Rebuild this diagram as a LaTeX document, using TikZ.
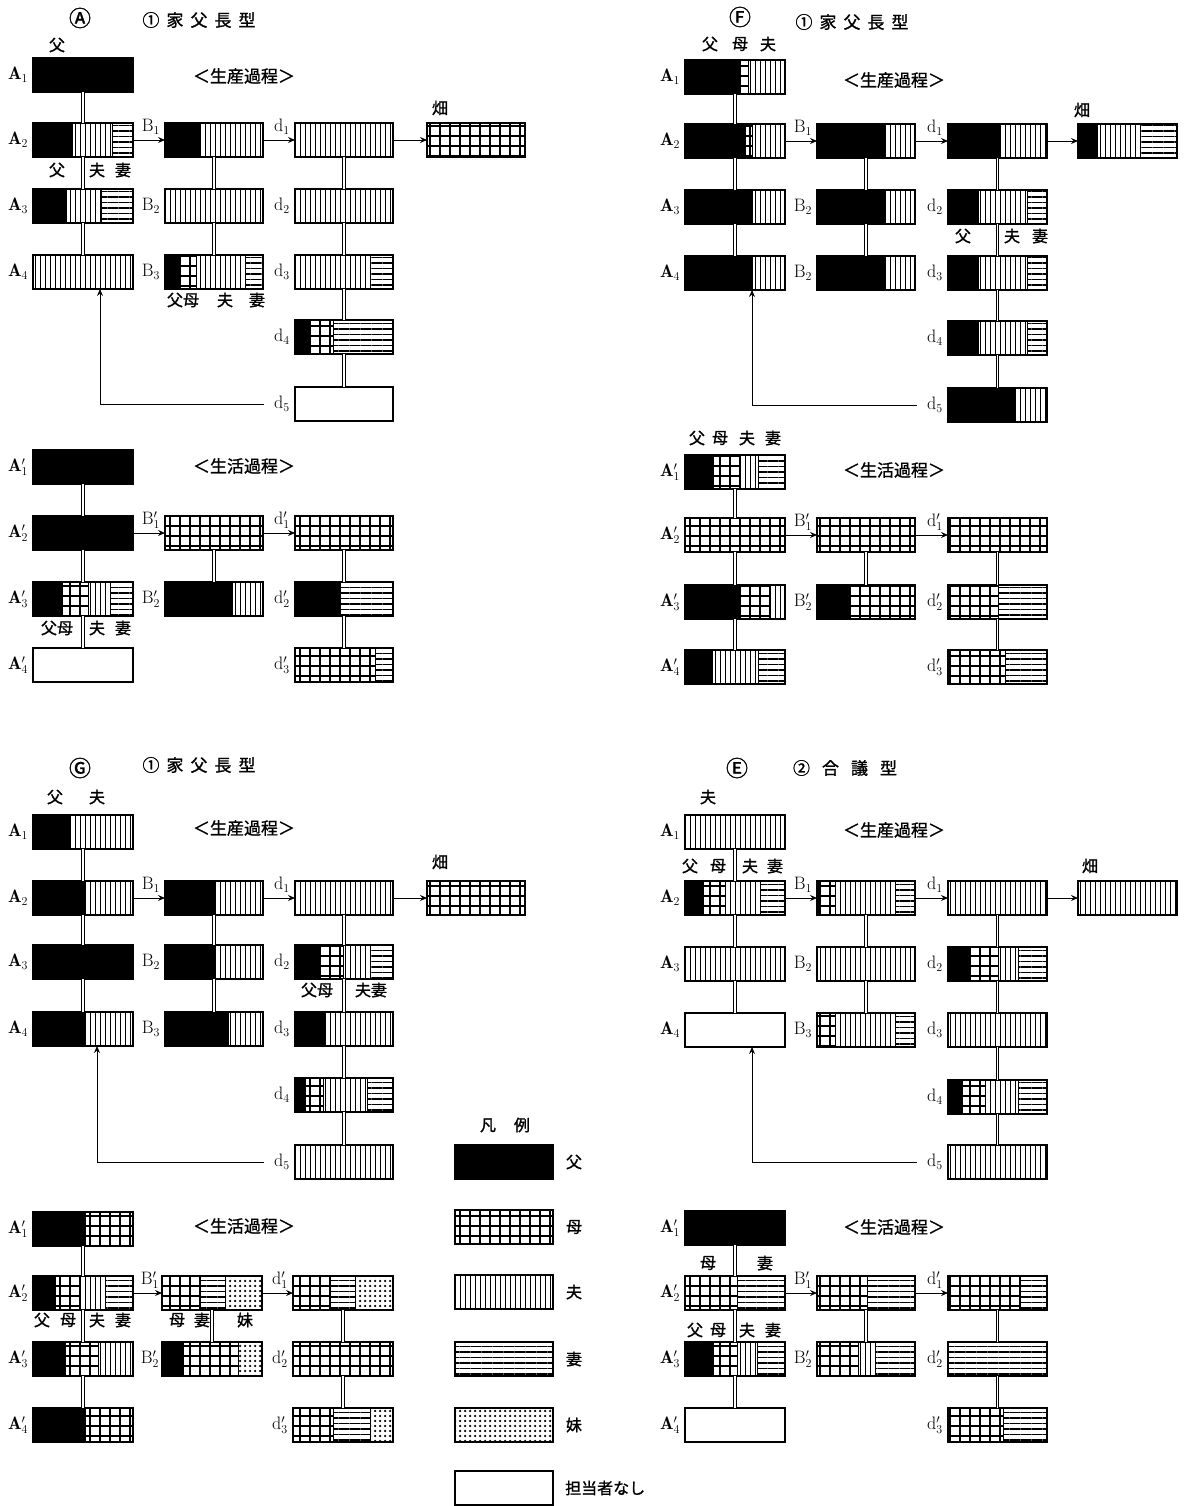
\documentclass[tikz,border=0pt]{standalone}
\usepackage{fontspec}
\newfontfamily\jp[FakeBold=1.2]{Noto Sans CJK JP}
\usetikzlibrary{patterns.meta,arrows.meta}
\tikzset{
 patF/.style={fill=black},
 patN/.style={fill=white},
 patH/.style={pattern={Lines[angle=90,distance=5pt,line width=0.9pt]}},
 patW/.style={pattern={Lines[angle=0,distance=5.5pt,line width=1.1pt]}},
 patM/.style={pattern={Hatch[angle=0,distance=10pt,line width=2.6pt]}},
 patS/.style={pattern={Dots[distance=5pt,radius=1.25pt]}},
 segb/.style={draw,line width=0.7pt},
 bxn/.style={draw,line width=1.3pt,inner sep=0pt,outer sep=0pt,rectangle},
 stem/.style={draw,line width=1pt,double=white,double distance=1.6pt},
 arr/.style={-{Stealth[length=7pt,width=6pt,inset=2.5pt]},line width=0.9pt},
 lab/.style={inner sep=0pt,font=\fontsize{18}{18}\selectfont},
 jpl/.style={inner sep=0pt,font=\jp\fontsize{16}{16}\selectfont},
 ttl/.style={inner sep=0pt,font=\jp\fontsize{17}{17}\selectfont},
 circ/.style={inner sep=0pt,font=\jp\fontsize{22}{22}\selectfont},
}
\newcommand\bx[5]{%
 \foreach \ty/\xa/\xb in {#5}{\path[segb,pat\ty] (\xa,#4) rectangle (\xb,#4+34);}%
 \pgfmathsetmacro\bxw{#3-#2}%
 \node[bxn,minimum width=\bxw pt,minimum height=34pt,anchor=north west] (#1) at (#2,#4) {};}
\newcommand\lb[4]{\node[lab] (L#1) at (#2,#3) {#4};}
\newcommand\jt[4]{\node[jpl] (#1) at (#2,#3) {#4};}
\newcommand\stm[2]{\draw[stem] (#1.south) -- (#2.north);}
\newcommand\ar[2]{\draw[arr] (#1.east) -- (#2.west);}
\newcommand\ttlA{①\hspace{7pt}家\hspace{7pt}父\hspace{7pt}長\hspace{7pt}型}
\begin{document}
\begin{tikzpicture}[x=1pt,y=-1pt]
\useasboundingbox (0,0) rectangle (1189,1506);
\fill[white] (0,0) rectangle (1189,1506);
%================ Panel A =================
\node[circ] (aT1) at (80,18) {Ⓐ};
\node[ttl] (aT2) at (199,20) {\ttlA};
\node[ttl] (aP) at (244,76) {＜生産過程＞};
\jt{aF1}{57}{45}{父}
\bx{aA1}{33}{133}{58}{F/33/133}
\bx{aA2}{33}{133}{123}{F/33/72,H/72/112,W/112/133}
\bx{aA3}{33}{133}{189}{F/33/66,H/66/101,W/101/133}
\bx{aA4}{33}{133}{255}{H/33/133}
\bx{aB1}{165}{263}{123}{F/165/200,H/200/263}
\bx{aB2}{165}{263}{189}{H/165/263}
\bx{aB3}{165}{263}{255}{F/165/180,M/180/196,H/196/245,W/245/263}
\bx{ad1}{295}{393}{123}{H/295/393}
\bx{ad2}{295}{393}{189}{H/295/393}
\bx{ad3}{295}{393}{255}{H/295/370,W/370/393}
\bx{ad4}{295}{393}{320}{F/295/310,M/310/333,W/333/393}
\bx{ad5}{295}{393}{387}{N/295/393}
\bx{aK}{427}{525}{123}{M/427/525}
\jt{aKt}{440}{108}{畑}
\jt{aU1}{57}{170}{父}\jt{aU2}{97}{170}{夫}\jt{aU3}{123}{170}{妻}
\jt{aU4}{183}{300}{父母}\jt{aU5}{225}{300}{夫}\jt{aU6}{257}{300}{妻}
\lb{aA1}{18}{75}{$\mathbf{A}_{1}$}\lb{aA2}{18}{140}{$\mathbf{A}_{2}$}
\lb{aA3}{18}{206}{$\mathbf{A}_{3}$}\lb{aA4}{18}{272}{$\mathbf{A}_{4}$}
\lb{aB1}{151}{127}{$\mathrm{B}_1$}\lb{aB2}{151}{206}{$\mathrm{B}_2$}\lb{aB3}{151}{272}{$\mathrm{B}_3$}
\lb{ad1}{282}{127}{$\mathrm{d}_1$}\lb{ad2}{282}{206}{$\mathrm{d}_2$}\lb{ad3}{282}{272}{$\mathrm{d}_3$}
\lb{ad4}{282}{337}{$\mathrm{d}_4$}\lb{ad5}{282}{404}{$\mathrm{d}_5$}
\stm{aA1}{aA2}\stm{aA2}{aA3}\stm{aA3}{aA4}
\stm{aB1}{aB2}\stm{aB2}{aB3}
\stm{ad1}{ad2}\stm{ad2}{ad3}\stm{ad3}{ad4}\stm{ad4}{ad5}
\ar{aA2}{aB1}\ar{aB1}{ad1}\ar{ad1}{aK}
\draw[arr] ([xshift=-10pt]Lad5.west) -| ([xshift=17pt]aA4.south);
% living A
\node[ttl] (aL) at (244,466) {＜生活過程＞};
\bx{aA1l}{33}{133}{450}{F/33/133}
\bx{aA2l}{33}{133}{516}{F/33/133}
\bx{aA3l}{33}{133}{582}{F/33/62,M/62/88,H/88/110,W/110/133}
\bx{aA4l}{33}{133}{648}{N/33/133}
\bx{aB1l}{165}{263}{516}{M/165/263}
\bx{aB2l}{165}{263}{582}{F/165/232,H/232/263}
\bx{ad1l}{295}{393}{516}{M/295/393}
\bx{ad2l}{295}{393}{582}{F/295/340,W/340/393}
\bx{ad3l}{295}{393}{648}{M/295/375,W/375/393}
\jt{aV1}{57}{628}{父母}\jt{aV2}{97}{628}{夫}\jt{aV3}{123}{628}{妻}
\lb{aA1l}{18}{467}{$\mathbf{A}_{1}'$}\lb{aA2l}{18}{533}{$\mathbf{A}_{2}'$}
\lb{aA3l}{18}{599}{$\mathbf{A}_{3}'$}\lb{aA4l}{18}{665}{$\mathbf{A}_{4}'$}
\lb{aB1l}{151}{520}{$\mathrm{B}_1'$}\lb{aB2l}{151}{599}{$\mathrm{B}_2'$}
\lb{ad1l}{282}{520}{$\mathrm{d}_1'$}\lb{ad2l}{282}{599}{$\mathrm{d}_2'$}\lb{ad3l}{282}{665}{$\mathrm{d}_3'$}
\stm{aA1l}{aA2l}\stm{aA2l}{aA3l}\stm{aA3l}{aA4l}
\stm{aB1l}{aB2l}\stm{ad1l}{ad2l}\stm{ad2l}{ad3l}
\ar{aA2l}{aB1l}\ar{aB1l}{ad1l}
%================ Panel F =================
\node[circ] (fT1) at (740,17) {Ⓕ};
\node[ttl] (fT2) at (852,22) {\ttlA};
\node[ttl] (fP) at (894,80) {＜生産過程＞};
\jt{fF1}{710}{44}{父}\jt{fF2}{740}{44}{母}\jt{fF3}{768}{44}{夫}
\bx{fA1}{685}{785}{60}{F/685/738,M/738/748,H/748/785}
\bx{fA2}{685}{785}{124}{F/685/745,M/745/752,H/752/785}
\bx{fA3}{685}{785}{190}{F/685/752,H/752/785}
\bx{fA4}{685}{785}{256}{F/685/752,H/752/785}
\bx{fB1}{817}{915}{124}{F/817/885,H/885/915}
\bx{fB2}{817}{915}{190}{F/817/885,H/885/915}
\bx{fB3}{817}{915}{256}{F/817/885,H/885/915}
\bx{fd1}{948}{1047}{124}{F/948/1000,H/1000/1047}
\bx{fd2}{948}{1047}{190}{F/948/978,H/978/1027,W/1027/1047}
\bx{fd3}{948}{1047}{256}{F/948/978,H/978/1027,W/1027/1047}
\bx{fd4}{948}{1047}{321}{F/948/978,H/978/1027,W/1027/1047}
\bx{fd5}{948}{1047}{388}{F/948/1015,H/1015/1047}
\bx{fK}{1078}{1177}{124}{F/1078/1097,H/1097/1140,W/1140/1177}
\jt{fKt}{1082}{110}{畑}
\jt{fU1}{963}{236}{父}\jt{fU2}{1012}{236}{夫}\jt{fU3}{1040}{236}{妻}
\lb{fA1}{670}{77}{$\mathbf{A}_{1}$}\lb{fA2}{670}{141}{$\mathbf{A}_{2}$}
\lb{fA3}{670}{207}{$\mathbf{A}_{3}$}\lb{fA4}{670}{273}{$\mathbf{A}_{4}$}
\lb{fB1}{803}{128}{$\mathrm{B}_1$}\lb{fB2}{803}{207}{$\mathrm{B}_2$}\lb{fB3}{803}{273}{$\mathrm{B}_2$}
\lb{fd1}{935}{128}{$\mathrm{d}_1$}\lb{fd2}{935}{207}{$\mathrm{d}_2$}\lb{fd3}{935}{273}{$\mathrm{d}_3$}
\lb{fd4}{935}{338}{$\mathrm{d}_4$}\lb{fd5}{935}{405}{$\mathrm{d}_5$}
\stm{fA1}{fA2}\stm{fA2}{fA3}\stm{fA3}{fA4}
\stm{fB1}{fB2}\stm{fB2}{fB3}
\stm{fd1}{fd2}\stm{fd2}{fd3}\stm{fd3}{fd4}\stm{fd4}{fd5}
\ar{fA2}{fB1}\ar{fB1}{fd1}\ar{fd1}{fK}
\draw[arr] ([xshift=-10pt]Lfd5.west) -| ([xshift=17pt]fA4.south);
% living F
\node[ttl] (fL) at (894,470) {＜生活過程＞};
\jt{fG1}{697}{438}{父}\jt{fG2}{720}{438}{母}\jt{fG3}{747}{438}{夫}\jt{fG4}{773}{438}{妻}
\bx{fA1l}{685}{785}{455}{F/685/713,M/713/740,H/740/758,W/758/785}
\bx{fA2l}{685}{785}{518}{M/685/785}
\bx{fA3l}{685}{785}{585}{F/685/740,M/740/770,H/770/785}
\bx{fA4l}{685}{785}{650}{F/685/712,H/712/758,W/758/785}
\bx{fB1l}{817}{915}{518}{M/817/915}
\bx{fB2l}{817}{915}{585}{F/817/850,M/850/915}
\bx{fd1l}{948}{1047}{518}{M/948/1047}
\bx{fd2l}{948}{1047}{585}{M/948/998,W/998/1047}
\bx{fd3l}{948}{1047}{650}{M/948/1005,W/1005/1047}
\lb{fA1l}{670}{472}{$\mathbf{A}_{1}'$}\lb{fA2l}{670}{535}{$\mathbf{A}_{2}'$}
\lb{fA3l}{670}{602}{$\mathbf{A}_{3}'$}\lb{fA4l}{670}{667}{$\mathbf{A}_{4}'$}
\lb{fB1l}{803}{522}{$\mathrm{B}_1'$}\lb{fB2l}{803}{602}{$\mathrm{B}_2'$}
\lb{fd1l}{935}{522}{$\mathrm{d}_1'$}\lb{fd2l}{935}{602}{$\mathrm{d}_2'$}\lb{fd3l}{935}{667}{$\mathrm{d}_3'$}
\stm{fA1l}{fA2l}\stm{fA2l}{fA3l}\stm{fA3l}{fA4l}
\stm{fB1l}{fB2l}\stm{fd1l}{fd2l}\stm{fd2l}{fd3l}
\ar{fA2l}{fB1l}\ar{fB1l}{fd1l}
%================ Panel G =================
\node[circ] (gT1) at (80,768) {Ⓖ};
\node[ttl] (gT2) at (199,765) {\ttlA};
\node[ttl] (gP) at (244,828) {＜生産過程＞};
\jt{gF1}{55}{797}{父}\jt{gF2}{97}{797}{夫}
\bx{gA1}{33}{133}{815}{F/33/70,H/70/133}
\bx{gA2}{33}{133}{881}{F/33/85,H/85/133}
\bx{gA3}{33}{133}{945}{F/33/133}
\bx{gA4}{33}{133}{1012}{F/33/85,H/85/133}
\bx{gB1}{165}{263}{881}{F/165/215,H/215/263}
\bx{gB2}{165}{263}{945}{F/165/215,H/215/263}
\bx{gB3}{165}{263}{1012}{F/165/228,H/228/263}
\bx{gd1}{295}{393}{881}{H/295/393}
\bx{gd2}{295}{393}{945}{F/295/318,M/318/343,H/343/370,W/370/393}
\bx{gd3}{295}{393}{1012}{F/295/325,H/325/393}
\bx{gd4}{295}{393}{1078}{F/295/305,M/305/323,H/323/367,W/367/393}
\bx{gd5}{295}{393}{1145}{H/295/393}
\bx{gK}{427}{525}{881}{M/427/525}
\jt{gKt}{440}{862}{畑}
\jt{gU1}{317}{990}{父母}\jt{gU2}{371}{990}{夫妻}
\lb{gA1}{18}{832}{$\mathbf{A}_{1}$}\lb{gA2}{18}{898}{$\mathbf{A}_{2}$}
\lb{gA3}{18}{962}{$\mathbf{A}_{3}$}\lb{gA4}{18}{1029}{$\mathbf{A}_{4}$}
\lb{gB1}{151}{885}{$\mathrm{B}_1$}\lb{gB2}{151}{962}{$\mathrm{B}_2$}\lb{gB3}{151}{1029}{$\mathrm{B}_3$}
\lb{gd1}{282}{885}{$\mathrm{d}_1$}\lb{gd2}{282}{962}{$\mathrm{d}_2$}\lb{gd3}{282}{1029}{$\mathrm{d}_3$}
\lb{gd4}{282}{1095}{$\mathrm{d}_4$}\lb{gd5}{282}{1162}{$\mathrm{d}_5$}
\stm{gA1}{gA2}\stm{gA2}{gA3}\stm{gA3}{gA4}
\stm{gB1}{gB2}\stm{gB2}{gB3}
\stm{gd1}{gd2}\stm{gd2}{gd3}\stm{gd3}{gd4}\stm{gd4}{gd5}
\ar{gA2}{gB1}\ar{gB1}{gd1}\ar{gd1}{gK}
\draw[arr] ([xshift=-10pt]Lgd5.west) -| ([xshift=14pt]gA4.south);
% living G
\node[ttl] (gL) at (244,1226) {＜生活過程＞};
\bx{gA1l}{33}{133}{1212}{F/33/85,M/85/133}
\bx{gA2l}{33}{133}{1276}{F/33/55,M/55/80,H/80/105,W/105/133}
\bx{gA3l}{33}{133}{1342}{F/33/65,M/65/98,H/98/133}
\bx{gA4l}{33}{133}{1408}{F/33/85,M/85/133}
\bx{gB1l}{162}{262}{1276}{M/162/200,W/200/225,S/225/262}
\bx{gB2l}{162}{262}{1342}{F/162/183,M/183/238,S/238/262}
\bx{gd1l}{293}{393}{1276}{M/293/330,W/330/355,S/355/393}
\bx{gd2l}{293}{393}{1342}{M/293/393}
\bx{gd3l}{293}{393}{1408}{M/293/333,W/333/370,S/370/393}
\jt{gV1}{42}{1320}{父}\jt{gV2}{68}{1320}{母}\jt{gV3}{97}{1320}{夫}\jt{gV4}{123}{1320}{妻}
\jt{gV5}{177}{1320}{母}\jt{gV6}{202}{1320}{妻}\jt{gV7}{245}{1320}{妹}
\lb{gA1l}{18}{1229}{$\mathbf{A}_{1}'$}\lb{gA2l}{18}{1293}{$\mathbf{A}_{2}'$}
\lb{gA3l}{18}{1359}{$\mathbf{A}_{3}'$}\lb{gA4l}{18}{1425}{$\mathbf{A}_{4}'$}
\lb{gB1l}{150}{1280}{$\mathrm{B}_1'$}\lb{gB2l}{150}{1359}{$\mathrm{B}_2'$}
\lb{gd1l}{280}{1280}{$\mathrm{d}_1'$}\lb{gd2l}{280}{1359}{$\mathrm{d}_2'$}\lb{gd3l}{280}{1425}{$\mathrm{d}_3'$}
\stm{gA1l}{gA2l}\stm{gA2l}{gA3l}\stm{gA3l}{gA4l}
\stm{gB1l}{gB2l}\stm{gd1l}{gd2l}\stm{gd2l}{gd3l}
\ar{gA2l}{gB1l}\ar{gB1l}{gd1l}
%================ Panel E =================
\node[circ] (eT1) at (737,768) {Ⓔ};
\node[ttl] (eT2) at (845,768) {②\hspace{12pt}合\hspace{12pt}議\hspace{12pt}型};
\node[ttl] (eP) at (894,830) {＜生産過程＞};
\jt{eF1}{708}{797}{夫}
\bx{eA1}{685}{785}{815}{H/685/785}
\bx{eA2}{685}{785}{881}{F/685/703,M/703/725,H/725/760,W/760/785}
\bx{eA3}{685}{785}{947}{H/685/785}
\bx{eA4}{685}{785}{1013}{N/685/785}
\bx{eB1}{817}{915}{881}{F/817/820,M/820/835,H/835/895,W/895/915}
\bx{eB2}{817}{915}{947}{H/817/915}
\bx{eB3}{817}{915}{1013}{M/817/835,H/835/895,W/895/915}
\bx{ed1}{948}{1047}{881}{H/948/1047}
\bx{ed2}{948}{1047}{947}{F/948/970,M/970/998,H/998/1018,W/1018/1047}
\bx{ed3}{948}{1047}{1013}{H/948/1047}
\bx{ed4}{948}{1047}{1080}{F/948/962,M/962/985,H/985/1018,W/1018/1047}
\bx{ed5}{948}{1047}{1145}{H/948/1047}
\bx{eK}{1078}{1177}{881}{H/1078/1177}
\jt{eKt}{1090}{866}{畑}
\jt{eU1}{690}{866}{父}\jt{eU2}{718}{866}{母}\jt{eU3}{750}{866}{夫}\jt{eU4}{775}{866}{妻}
\lb{eA1}{670}{832}{$\mathbf{A}_{1}$}\lb{eA2}{670}{898}{$\mathbf{A}_{2}$}
\lb{eA3}{670}{964}{$\mathbf{A}_{3}$}\lb{eA4}{670}{1030}{$\mathbf{A}_{4}$}
\lb{eB1}{803}{885}{$\mathrm{B}_1$}\lb{eB2}{803}{964}{$\mathrm{B}_2$}\lb{eB3}{803}{1030}{$\mathrm{B}_3$}
\lb{ed1}{935}{885}{$\mathrm{d}_1$}\lb{ed2}{935}{964}{$\mathrm{d}_2$}\lb{ed3}{935}{1030}{$\mathrm{d}_3$}
\lb{ed4}{935}{1097}{$\mathrm{d}_4$}\lb{ed5}{935}{1162}{$\mathrm{d}_5$}
\stm{eA1}{eA2}\stm{eA2}{eA3}\stm{eA3}{eA4}
\stm{eB1}{eB2}\stm{eB2}{eB3}
\stm{ed1}{ed2}\stm{ed2}{ed3}\stm{ed3}{ed4}\stm{ed4}{ed5}
\ar{eA2}{eB1}\ar{eB1}{ed1}\ar{ed1}{eK}
\draw[arr] ([xshift=-10pt]Led5.west) -| ([xshift=17pt]eA4.south);
% living E
\node[ttl] (eL) at (894,1227) {＜生活過程＞};
\jt{eG1}{708}{1263}{母}\jt{eG2}{765}{1263}{妻}
\jt{eH1}{695}{1330}{父}\jt{eH2}{718}{1330}{母}\jt{eH3}{747}{1330}{夫}\jt{eH4}{773}{1330}{妻}
\bx{eA1l}{685}{785}{1211}{F/685/785}
\bx{eA2l}{685}{785}{1276}{M/685/737,W/737/785}
\bx{eA3l}{685}{785}{1342}{F/685/713,M/713/737,H/737/757,W/757/785}
\bx{eA4l}{685}{785}{1408}{N/685/785}
\bx{eB1l}{817}{915}{1276}{M/817/867,W/867/915}
\bx{eB2l}{817}{915}{1342}{M/817/858,H/858/875,W/875/915}
\bx{ed1l}{948}{1047}{1276}{M/948/1020,W/1020/1047}
\bx{ed2l}{948}{1047}{1342}{W/948/1047}
\bx{ed3l}{948}{1047}{1408}{M/948/1003,W/1003/1047}
\lb{eA1l}{670}{1228}{$\mathbf{A}_{1}'$}\lb{eA2l}{670}{1293}{$\mathbf{A}_{2}'$}
\lb{eA3l}{670}{1359}{$\mathbf{A}_{3}'$}\lb{eA4l}{670}{1425}{$\mathbf{A}_{4}'$}
\lb{eB1l}{803}{1280}{$\mathrm{B}_1'$}\lb{eB2l}{803}{1359}{$\mathrm{B}_2'$}
\lb{ed1l}{935}{1280}{$\mathrm{d}_1'$}\lb{ed2l}{935}{1359}{$\mathrm{d}_2'$}\lb{ed3l}{935}{1425}{$\mathrm{d}_3'$}
\stm{eA1l}{eA2l}\stm{eA2l}{eA3l}\stm{eA3l}{eA4l}
\stm{eB1l}{eB2l}\stm{ed1l}{ed2l}\stm{ed2l}{ed3l}
\ar{eA2l}{eB1l}\ar{eB1l}{ed1l}
%================ Legend =================
\jt{legT}{505}{1125}{凡\hspace{18pt}例}
\bx{legF}{455}{553}{1145}{F/455/553}
\bx{legM}{455}{553}{1210}{M/455/553}
\bx{legH}{455}{553}{1275}{H/455/553}
\bx{legW}{455}{553}{1342}{W/455/553}
\bx{legS}{455}{553}{1408}{S/455/553}
\bx{legN}{455}{553}{1471}{N/455/553}
\jt{legF1}{574}{1162}{父}\jt{legM1}{574}{1227}{母}\jt{legH1}{574}{1292}{夫}
\jt{legW1}{574}{1359}{妻}\jt{legS1}{574}{1425}{妹}
\node[jpl,anchor=west] (legN1) at (565,1488) {担当者なし};
\end{tikzpicture}
\end{document}
